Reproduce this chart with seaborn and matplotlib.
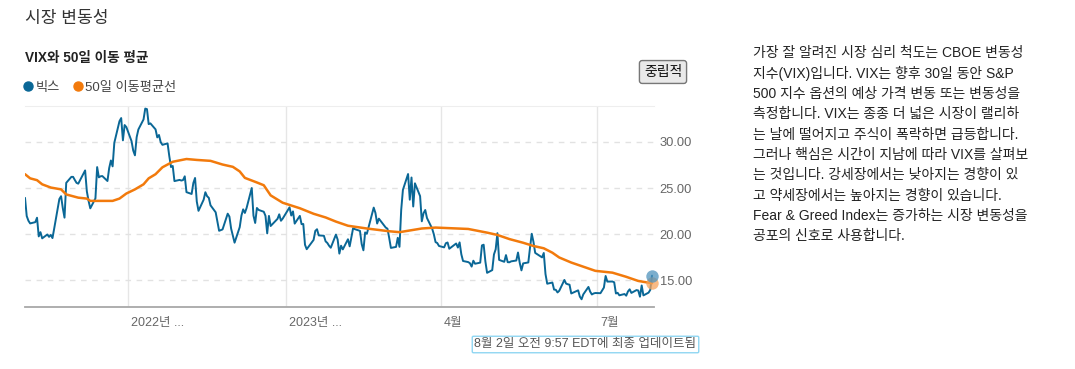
import pandas as pd
import matplotlib.pyplot as plt
import matplotlib.transforms as mtransforms
from matplotlib.lines import Line2D
import seaborn as sns

# NYSE holidays inside the window
holidays = ['2022-09-05', '2022-11-24', '2022-12-26', '2023-01-02', '2023-01-16',
            '2023-02-20', '2023-04-07', '2023-05-29', '2023-06-19', '2023-07-04']

# VIX daily closes, 2022-08-02 .. 2023-08-02
vix_values = [
    # Aug 2022
    23.93, 21.95, 21.44, 21.15, 21.29, 21.77, 19.74, 20.20, 19.53, 19.95, 19.69,
    19.90, 19.56, 20.60, 23.80, 24.11, 22.82, 21.78, 25.56, 26.21, 26.21, 25.87,
    # Sep 2022
    25.56, 25.47, 26.91, 24.64, 23.61, 22.79, 23.87, 27.27, 26.16, 26.27, 26.30,
    25.76, 27.16, 27.99, 27.35, 29.92, 32.26, 32.60, 30.18, 31.84, 31.62,
    # Oct 2022
    30.10, 29.07, 28.55, 30.52, 31.36, 32.45, 33.63, 33.57, 31.94, 32.02, 31.37,
    30.50, 30.76, 29.98, 29.69, 29.85, 28.46, 27.28, 27.39, 25.75, 25.88,
    # Nov 2022
    25.81, 25.86, 26.27, 24.55, 24.35, 25.54, 26.09, 23.53, 22.52, 23.73, 24.54,
    24.11, 23.93, 23.12, 22.36, 21.37, 20.35, 20.50, 22.21, 21.89, 20.58,
    # Dec 2022
    19.84, 19.06, 20.75, 22.01, 22.68, 22.29, 22.83, 25.00, 22.00, 21.20, 22.83,
    22.62, 22.42, 21.97, 20.07, 21.97, 20.87, 21.65, 22.14, 21.44, 21.67,
    # Jan 2023
    22.90, 22.01, 22.46, 21.13, 21.97, 21.07, 21.09, 18.83, 18.35, 19.36, 20.34,
    20.52, 19.85, 19.81, 19.20, 19.03, 18.73, 18.51, 19.94, 19.40,
    # Feb 2023
    17.87, 18.73, 18.33, 19.43, 18.66, 19.63, 20.63, 20.53, 20.34, 18.91, 18.23,
    20.17, 20.02, 22.87, 22.29, 21.14, 21.67, 20.95, 20.70,
    # Mar 2023
    20.58, 19.59, 18.49, 18.60, 19.59, 18.61, 22.61, 24.80, 26.52, 23.73, 26.14,
    22.99, 25.51, 24.12, 21.38, 22.26, 22.61, 21.74, 20.60, 19.97, 19.12, 19.02, 18.70,
    # Apr 2023
    18.55, 19.00, 19.08, 18.40, 18.97, 18.53, 19.09, 17.80, 17.07, 16.95, 16.83,
    16.46, 17.10, 16.77, 16.89, 18.76, 18.84, 17.03, 15.78,
    # May 2023
    16.08, 17.78, 18.34, 20.09, 17.19, 16.98, 17.71, 16.94, 16.93, 17.03, 17.12,
    17.99, 16.87, 16.05, 16.81, 16.91, 18.53, 20.03, 19.14, 17.95, 17.46, 17.94,
    # Jun 2023
    15.65, 14.60, 14.73, 13.96, 13.94, 13.65, 13.83, 15.01, 14.61, 14.54, 14.49,
    13.54, 13.88, 13.20, 12.91, 13.44, 14.25, 13.74, 13.43, 13.54, 13.59,
    # Jul 2023
    13.57, 14.18, 15.44, 14.83, 14.84, 14.75, 13.54, 13.61, 13.34, 13.48, 13.30,
    13.76, 13.99, 13.60, 13.91, 13.86, 13.19, 14.41, 13.33, 13.63,
    # Aug 2023
    13.93, 15.48,
]

# 50-day moving average
ma_dates = ['2022-08-02', '2022-08-05', '2022-08-09', '2022-08-12', '2022-08-17',
            '2022-08-23', '2022-08-26', '2022-09-02', '2022-09-07', '2022-09-09',
            '2022-09-22', '2022-09-26', '2022-09-30', '2022-10-05', '2022-10-10',
            '2022-10-13', '2022-10-17', '2022-10-21', '2022-10-27', '2022-11-04',
            '2022-11-10', '2022-11-18', '2022-11-25', '2022-12-01', '2022-12-05',
            '2022-12-08', '2022-12-15', '2022-12-19', '2022-12-23', '2022-12-30',
            '2023-01-09', '2023-01-17', '2023-01-24', '2023-01-30', '2023-02-06',
            '2023-02-17', '2023-03-02', '2023-03-08', '2023-03-21', '2023-03-29',
            '2023-04-17', '2023-04-28', '2023-05-04', '2023-05-11', '2023-05-19',
            '2023-05-25', '2023-05-31', '2023-06-05', '2023-06-09', '2023-06-16',
            '2023-06-23', '2023-06-30', '2023-07-10', '2023-07-18', '2023-07-25',
            '2023-08-02']
ma_values = [26.5, 26.05, 25.85, 25.4, 25.05,
             24.85, 24.3, 23.95, 23.85, 23.6,
             23.6, 23.85, 24.4, 24.85, 25.4,
             26.05, 26.5, 27.25, 27.85, 28.15,
             28.05, 27.95, 27.55, 27.3, 26.8,
             26.1, 25.6, 25.3, 24.2, 23.4,
             22.8, 22.2, 21.8, 21.35, 20.9,
             20.6, 20.3, 20.2, 20.6, 20.7,
             20.55, 20.15, 19.9, 19.45, 19.05,
             18.7, 18.45, 17.97, 17.45, 16.9,
             16.45, 16.0, 15.8, 15.35, 14.9,
             14.65]

ytick_values = [15, 20, 25, 30]
xtick_dates = ['2022-10-01', '2023-01-01', '2023-04-01', '2023-07-01']
xtick_labels = ['2022년 ...', '2023년 ...', '4월', '7월']

description = [
    '가장 잘 알려진 시장 심리 척도는 CBOE 변동성',
    '지수(VIX)입니다. VIX는 향후 30일 동안 S&P',
    '500 지수 옵션의 예상 가격 변동 또는 변동성을',
    '측정합니다. VIX는 종종 더 넓은 시장이 랠리하',
    '는 날에 떨어지고 주식이 폭락하면 급등합니다.',
    '그러나 핵심은 시간이 지남에 따라 VIX를 살펴보',
    '는 것입니다. 강세장에서는 낮아지는 경향이 있',
    '고 약세장에서는 높아지는 경향이 있습니다.',
    'Fear & Greed Index는 증가하는 시장 변동성을',
    '공포의 신호로 사용합니다.',
]

BLUE = '#0a6796'
ORANGE = '#f27a0c'

dates = pd.bdate_range('2022-08-02', '2023-08-02', freq='C', holidays=holidays)
vix = pd.DataFrame({'date': dates, 'value': vix_values})
ma = pd.DataFrame({'date': pd.to_datetime(ma_dates), 'value': ma_values})

sns.set_style('white')
plt.rcParams['font.family'] = ['Liberation Sans', 'Noto Sans CJK KR']

W, H = 1075, 369
fig = plt.figure(figsize=(W / 100, H / 100), dpi=100)


def px(x, y):
    return x / W, 1 - y / H


ax = fig.add_axes([25 / W, 1 - 307 / H, (654 - 25) / W, (307 - 106) / H])

sns.lineplot(data=vix, x='date', y='value', color=BLUE, lw=1.4, ax=ax, zorder=3)
sns.lineplot(data=ma, x='date', y='value', color=ORANGE, lw=1.8, ax=ax, zorder=4)
ax.scatter(vix['date'].iloc[-1:], vix['value'].iloc[-1:], s=80, color='#4f93bd',
           alpha=0.75, zorder=6, clip_on=False, lw=0)
ax.scatter(ma['date'].iloc[-1:], ma['value'].iloc[-1:], s=80, color='#f6a35c',
           alpha=0.75, zorder=5, clip_on=False, lw=0)

ax.set_xlim(pd.Timestamp('2022-08-02'), pd.Timestamp('2023-08-03 04:00'))
ax.set_ylim(12.07, 33.91)
ax.set_xlabel('')
ax.set_ylabel('')

ax.set_yticks(ytick_values)
ax.set_yticklabels([f'{v:.2f}' for v in ytick_values])
ax.yaxis.tick_right()
ax.tick_params(axis='y', length=0, pad=4, labelsize=9.3, labelcolor='#666666')
ax.grid(axis='y', ls=(0, (4, 4)), color='#e2e2e2', lw=1)

ax.set_xticks(pd.to_datetime(xtick_dates))
ax.set_xticklabels(xtick_labels)
ax.tick_params(axis='x', length=0, pad=7, labelsize=9, labelcolor='#666666')
offset = mtransforms.ScaledTranslation(3 / 100, 0, fig.dpi_scale_trans)
for lab in ax.get_xticklabels():
    lab.set_horizontalalignment('left')
    lab.set_transform(lab.get_transform() + offset)
ax.grid(axis='x', ls='-', color='#e6e6e6', lw=1)
ax.set_axisbelow(True)

for side in ['left', 'right']:
    ax.spines[side].set_visible(False)
ax.spines['top'].set_color('#eeeeee')
ax.spines['bottom'].set_color('#a8a8a8')
ax.spines['bottom'].set_linewidth(1.3)

# headings
fig.text(*px(25, 18), '시장 변동성', fontsize=12.3, color='#333333', va='center',
         fontweight='medium')
fig.text(*px(25, 58), 'VIX와 50일 이동 평균', fontsize=9.8, fontweight='bold',
         color='#222222', va='center')

handles = [Line2D([], [], marker='o', ls='', color=BLUE, ms=6.5),
           Line2D([], [], marker='o', ls='', color=ORANGE, ms=6.5)]
fig.legend(handles, ['빅스', '50일 이동평균선'], loc='center left',
           bbox_to_anchor=px(19, 88), ncol=2, frameon=False, fontsize=9.5,
           handlelength=0.6, handletextpad=0.3, columnspacing=1.0,
           labelcolor='#444444', borderaxespad=0)

fig.text(*px(663, 72), '중립적', fontsize=10, color='#111111', ha='center', va='center',
         bbox=dict(boxstyle='round,pad=0.32,rounding_size=0.2', fc='#e9e9e9',
                   ec='#777777', lw=1))

fig.text(*px(585.5, 344.5), '8월 2일 오전 9:57 EDT에 최종 업데이트됨', fontsize=9,
         color='#555555', ha='center', va='center',
         bbox=dict(boxstyle='round,pad=0.18,rounding_size=0.1', fc='white',
                   ec='#8fd6f2', lw=1))

for i, line in enumerate(description):
    fig.text(*px(753, 53.5 + i * 20.3), line, fontsize=10, color='#222222',
             va='center')

fig.savefig('out.png', dpi=100)
